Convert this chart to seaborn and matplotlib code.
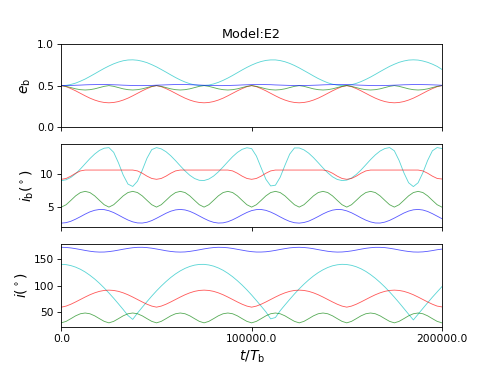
import matplotlib
matplotlib.use("Agg")
import matplotlib.pyplot as plt
import seaborn as sns
import numpy as np

# time samples (t / T_b)
t = [0, 2500, 5000, 7500, 10000, 12500, 15000, 17500, 20000, 22500,
     25000, 27500, 30000, 32500, 35000, 37500, 40000, 42500, 45000, 47500,
     50000, 52500, 55000, 57500, 60000, 62500, 65000, 67500, 70000, 72500,
     75000, 77500, 80000, 82500, 85000, 87500, 90000, 92500, 95000, 97500,
     100000, 102500, 105000, 107500, 110000, 112500, 115000, 117500, 120000, 122500,
     125000, 127500, 130000, 132500, 135000, 137500, 140000, 142500, 145000, 147500,
     150000, 152500, 155000, 157500, 160000, 162500, 165000, 167500, 170000, 172500,
     175000, 177500, 180000, 182500, 185000, 187500, 190000, 192500, 195000, 197500,
     200000]

# ---- panel 1: e_b ----
eb_cyan = [0.500, 0.503, 0.514, 0.530, 0.553, 0.579, 0.610, 0.642, 0.675, 0.707,
           0.736, 0.762, 0.783, 0.799, 0.808, 0.810, 0.805, 0.793, 0.776, 0.752,
           0.725, 0.694, 0.662, 0.629, 0.597, 0.568, 0.543, 0.523, 0.509, 0.501,
           0.501, 0.507, 0.520, 0.539, 0.563, 0.591, 0.622, 0.655, 0.688, 0.719,
           0.747, 0.771, 0.790, 0.803, 0.809, 0.809, 0.801, 0.787, 0.767, 0.742,
           0.713, 0.681, 0.649, 0.616, 0.585, 0.558, 0.534, 0.517, 0.505, 0.500,
           0.502, 0.511, 0.527, 0.548, 0.574, 0.603, 0.635, 0.668, 0.700, 0.731,
           0.757, 0.780, 0.796, 0.807, 0.810, 0.807, 0.796, 0.780, 0.758, 0.731,
           0.695]
eb_red = [0.500, 0.487, 0.464, 0.437, 0.407, 0.377, 0.349, 0.326, 0.308, 0.297,
          0.293, 0.297, 0.308, 0.326, 0.349, 0.377, 0.407, 0.437, 0.464, 0.487,
          0.500, 0.487, 0.464, 0.437, 0.407, 0.377, 0.349, 0.326, 0.308, 0.297,
          0.293, 0.297, 0.308, 0.326, 0.349, 0.377, 0.407, 0.437, 0.464, 0.487,
          0.500, 0.487, 0.464, 0.437, 0.407, 0.377, 0.349, 0.326, 0.308, 0.297,
          0.293, 0.297, 0.308, 0.326, 0.349, 0.377, 0.407, 0.437, 0.464, 0.487,
          0.500, 0.487, 0.464, 0.437, 0.407, 0.377, 0.349, 0.326, 0.308, 0.297,
          0.293, 0.297, 0.308, 0.326, 0.349, 0.377, 0.407, 0.437, 0.464, 0.487,
          0.500]
eb_green = [0.500, 0.491, 0.476, 0.461, 0.451, 0.447, 0.451, 0.461, 0.476, 0.491,
            0.500, 0.491, 0.476, 0.461, 0.451, 0.447, 0.451, 0.461, 0.476, 0.491,
            0.500, 0.491, 0.476, 0.461, 0.451, 0.447, 0.451, 0.461, 0.476, 0.491,
            0.500, 0.491, 0.476, 0.461, 0.451, 0.447, 0.451, 0.461, 0.476, 0.491,
            0.500, 0.491, 0.476, 0.461, 0.451, 0.447, 0.451, 0.461, 0.476, 0.491,
            0.500, 0.491, 0.476, 0.461, 0.451, 0.447, 0.451, 0.461, 0.476, 0.491,
            0.500, 0.491, 0.476, 0.461, 0.451, 0.447, 0.451, 0.461, 0.476, 0.491,
            0.500, 0.491, 0.476, 0.461, 0.451, 0.447, 0.451, 0.461, 0.476, 0.491,
            0.500]
eb_blue = [0.500, 0.500, 0.502, 0.504, 0.506, 0.509, 0.511, 0.512, 0.513, 0.513,
           0.512, 0.510, 0.508, 0.505, 0.503, 0.501, 0.500, 0.500, 0.501, 0.502,
           0.505, 0.507, 0.509, 0.511, 0.513, 0.513, 0.513, 0.511, 0.509, 0.507,
           0.504, 0.502, 0.501, 0.500, 0.500, 0.501, 0.503, 0.505, 0.508, 0.510,
           0.512, 0.513, 0.513, 0.512, 0.511, 0.508, 0.506, 0.504, 0.502, 0.500,
           0.500, 0.501, 0.502, 0.504, 0.506, 0.509, 0.511, 0.512, 0.513, 0.513,
           0.512, 0.510, 0.507, 0.505, 0.503, 0.501, 0.500, 0.500, 0.501, 0.503,
           0.505, 0.507, 0.510, 0.511, 0.513, 0.513, 0.512, 0.511, 0.509, 0.507,
           0.504]

# ---- panel 2: i_b (deg) ----
ib_cyan = [9.00, 9.13, 9.49, 10.05, 10.76, 11.55, 12.33, 13.02, 13.57, 13.90,
           13.99, 13.28, 11.69, 9.84, 8.48, 8.12, 8.92, 10.56, 12.39, 13.69,
           13.99, 13.80, 13.37, 12.76, 12.02, 11.23, 10.47, 9.81, 9.32, 9.05,
           9.02, 9.24, 9.69, 10.32, 11.07, 11.86, 12.62, 13.26, 13.73, 13.97,
           13.84, 12.72, 10.94, 9.20, 8.20, 8.31, 9.51, 11.31, 13.01, 13.94,
           13.94, 13.65, 13.15, 12.48, 11.71, 10.92, 10.19, 9.58, 9.18, 9.01,
           9.08, 9.40, 9.93, 10.61, 11.39, 12.18, 12.89, 13.47, 13.85, 14.00,
           13.51, 12.05, 10.20, 8.68, 8.10, 8.68, 10.20, 12.05, 13.51, 14.00,
           13.85]
ib_red = [9.20, 9.33, 9.68, 10.12, 10.47, 10.60, 10.60, 10.60, 10.60, 10.60,
          10.60, 10.60, 10.60, 10.60, 10.60, 10.60, 10.47, 10.12, 9.68, 9.33,
          9.20, 9.33, 9.68, 10.12, 10.47, 10.60, 10.60, 10.60, 10.60, 10.60,
          10.60, 10.60, 10.60, 10.60, 10.60, 10.60, 10.47, 10.12, 9.68, 9.33,
          9.20, 9.33, 9.68, 10.12, 10.47, 10.60, 10.60, 10.60, 10.60, 10.60,
          10.60, 10.60, 10.60, 10.60, 10.60, 10.60, 10.47, 10.12, 9.68, 9.33,
          9.20, 9.33, 9.68, 10.12, 10.47, 10.60, 10.60, 10.60, 10.60, 10.60,
          10.60, 10.60, 10.60, 10.60, 10.60, 10.60, 10.47, 10.12, 9.68, 9.33,
          9.25]
ib_green = [5.00, 5.36, 6.02, 6.70, 7.20, 7.38, 7.20, 6.70, 6.02, 5.36,
            5.00, 5.36, 6.02, 6.70, 7.20, 7.38, 7.20, 6.70, 6.02, 5.36,
            5.00, 5.36, 6.02, 6.70, 7.20, 7.38, 7.20, 6.70, 6.02, 5.36,
            5.00, 5.36, 6.02, 6.70, 7.20, 7.38, 7.20, 6.70, 6.02, 5.36,
            5.00, 5.36, 6.02, 6.70, 7.20, 7.38, 7.20, 6.70, 6.02, 5.36,
            5.00, 5.36, 6.02, 6.70, 7.20, 7.38, 7.20, 6.70, 6.02, 5.36,
            5.00, 5.36, 6.02, 6.70, 7.20, 7.38, 7.20, 6.70, 6.02, 5.36,
            5.00, 5.36, 6.02, 6.70, 7.20, 7.38, 7.20, 6.70, 6.02, 5.36,
            5.00]
ib_blue = [2.58, 2.65, 2.86, 3.18, 3.55, 3.94, 4.28, 4.52, 4.64, 4.62,
           4.45, 4.17, 3.80, 3.41, 3.05, 2.77, 2.61, 2.59, 2.71, 2.96,
           3.31, 3.69, 4.07, 4.38, 4.58, 4.65, 4.57, 4.36, 4.04, 3.66,
           3.28, 2.94, 2.70, 2.59, 2.62, 2.79, 3.08, 3.44, 3.83, 4.19,
           4.47, 4.62, 4.64, 4.51, 4.25, 3.91, 3.52, 3.15, 2.84, 2.64,
           2.58, 2.67, 2.88, 3.21, 3.58, 3.97, 4.30, 4.54, 4.65, 4.61,
           4.43, 4.14, 3.77, 3.38, 3.03, 2.76, 2.60, 2.59, 2.73, 2.99,
           3.34, 3.72, 4.10, 4.40, 4.59, 4.65, 4.56, 4.34, 4.01, 3.63,
           3.25]

# ---- panel 3: i (deg) ----
i_cyan = [140.0, 139.4, 137.6, 134.7, 130.7, 125.6, 119.4, 112.4, 104.4, 95.6,
          86.1, 76.2, 65.7, 55.0, 43.8, 36.5, 48.4, 59.3, 69.9, 80.3,
          90.1, 99.2, 107.6, 115.3, 122.0, 127.7, 132.4, 136.0, 138.5, 139.8,
          139.9, 138.8, 136.6, 133.2, 128.8, 123.2, 116.7, 109.2, 101.0, 92.0,
          82.3, 72.0, 61.4, 50.6, 37.5, 40.0, 52.8, 63.6, 74.1, 84.3,
          93.9, 102.7, 110.8, 118.1, 124.4, 129.7, 134.0, 137.2, 139.1, 140.0,
          139.6, 138.1, 135.4, 131.6, 126.7, 120.7, 113.8, 106.0, 97.5, 88.2,
          78.3, 67.9, 57.1, 46.2, 35.5, 46.2, 57.1, 67.8, 78.2, 88.1,
          98.0]
i_red = [59.5, 61.5, 65.0, 69.3, 73.9, 78.5, 82.8, 86.4, 89.2, 90.9,
         91.5, 90.9, 89.2, 86.4, 82.8, 78.5, 73.9, 69.3, 65.0, 61.5,
         59.5, 61.5, 65.0, 69.3, 73.9, 78.5, 82.8, 86.4, 89.2, 90.9,
         91.5, 90.9, 89.2, 86.4, 82.8, 78.5, 73.9, 69.3, 65.0, 61.5,
         59.5, 61.5, 65.0, 69.3, 73.9, 78.5, 82.8, 86.4, 89.2, 90.9,
         91.5, 90.9, 89.2, 86.4, 82.8, 78.5, 73.9, 69.3, 65.0, 61.5,
         59.5, 61.5, 65.0, 69.3, 73.9, 78.5, 82.8, 86.4, 89.2, 90.9,
         91.5, 90.9, 89.2, 86.4, 82.8, 78.5, 73.9, 69.3, 65.0, 61.5,
         60.0]
i_green = [30.0, 32.8, 37.9, 43.2, 47.1, 48.5, 47.1, 43.2, 37.9, 32.8,
           30.0, 32.8, 37.9, 43.2, 47.1, 48.5, 47.1, 43.2, 37.9, 32.8,
           30.0, 32.8, 37.9, 43.2, 47.1, 48.5, 47.1, 43.2, 37.9, 32.8,
           30.0, 32.8, 37.9, 43.2, 47.1, 48.5, 47.1, 43.2, 37.9, 32.8,
           30.0, 32.8, 37.9, 43.2, 47.1, 48.5, 47.1, 43.2, 37.9, 32.8,
           30.0, 32.8, 37.9, 43.2, 47.1, 48.5, 47.1, 43.2, 37.9, 32.8,
           30.0, 32.8, 37.9, 43.2, 47.1, 48.5, 47.1, 43.2, 37.9, 32.8,
           30.0, 32.8, 37.9, 43.2, 47.1, 48.5, 47.1, 43.2, 37.9, 32.8,
           30.0]
i_blue = [172.0, 171.7, 170.8, 169.4, 167.8, 166.1, 164.6, 163.5, 163.0, 163.1,
          163.9, 165.1, 166.7, 168.4, 169.9, 171.2, 171.9, 172.0, 171.4, 170.3,
          168.8, 167.2, 165.5, 164.2, 163.3, 163.0, 163.3, 164.3, 165.7, 167.3,
          169.0, 170.4, 171.5, 172.0, 171.8, 171.1, 169.8, 168.2, 166.6, 165.0,
          163.8, 163.1, 163.1, 163.6, 164.7, 166.2, 167.9, 169.5, 170.9, 171.7,
          172.0, 171.6, 170.7, 169.3, 167.6, 166.0, 164.5, 163.5, 163.0, 163.2,
          164.0, 165.2, 166.8, 168.5, 170.1, 171.2, 171.9, 171.9, 171.4, 170.2,
          168.7, 167.0, 165.4, 164.1, 163.2, 163.0, 163.4, 164.4, 165.8, 167.4,
          168.6]

series_colors = ["c", "r", "g", "b"]
xtick_vals = [0, 100000, 200000]
xtick_labels = ["0.0", "100000.0", "200000.0"]

DPI = 76.7
fig, axes = plt.subplots(3, 1, sharex=True, figsize=(491 / DPI, 367 / DPI), dpi=DPI)

panels = [
    (axes[0], [eb_cyan, eb_red, eb_green, eb_blue], r"$e_{\rm b}$"),
    (axes[1], [ib_cyan, ib_red, ib_green, ib_blue], r"$i_{\rm b}(^\circ)$"),
    (axes[2], [i_cyan, i_red, i_green, i_blue], r"$i(^\circ)$"),
]
for ax, data, lab in panels:
    for y, col in zip(data, series_colors):
        sns.lineplot(x=t, y=y, ax=ax, color=col, lw=0.8, alpha=0.65)
    ax.set_ylabel(lab, fontsize=13)

axes[0].set_ylim(0, 1)
axes[0].set_yticks([0.0, 0.5, 1.0])
axes[1].set_yticks([5, 10])
axes[2].set_yticks([50, 100, 150])
axes[0].set_title("Model:E2")
axes[2].set_xlim(0, 200000)
axes[2].set_xticks(xtick_vals)
axes[2].set_xticklabels(xtick_labels)
axes[2].set_xlabel(r"$t/T_{\rm b}$", fontsize=13)

fig.savefig("out.png", dpi=DPI)
